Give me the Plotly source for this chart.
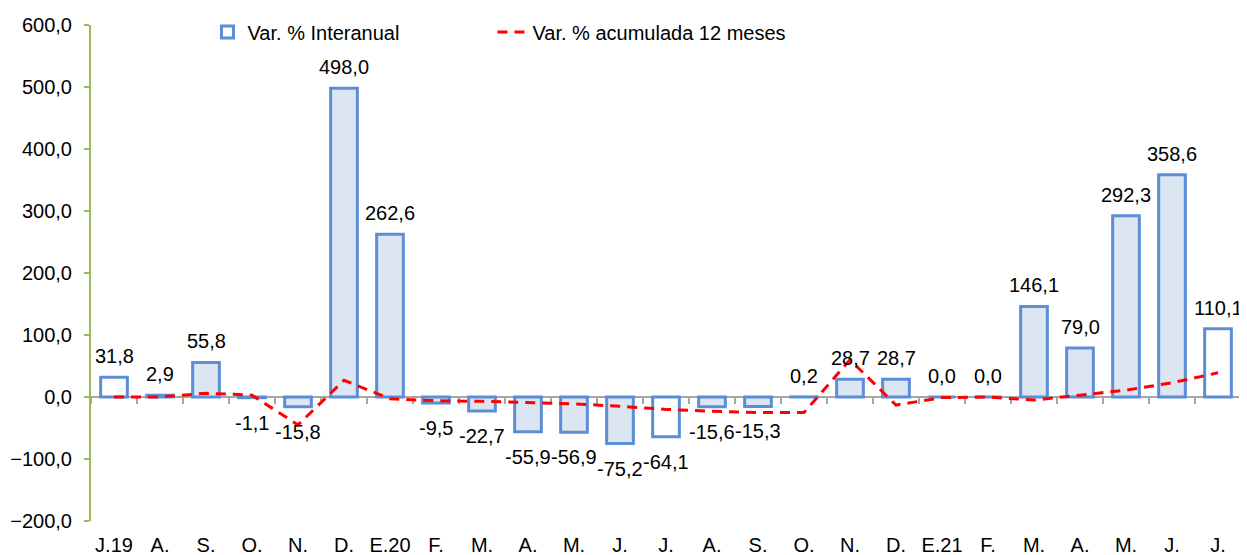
import plotly.graph_objects as go

labels = ["J.19", "A.", "S.", "O.", "N.", "D.", "E.20", "F.", "M.", "A.", "M.", "J.",
          "J.", "A.", "S.", "O.", "N.", "D.", "E.21", "F.", "M.", "A.", "M.", "J.", "J."]
interanual = [31.8, 2.9, 55.8, -1.1, -15.8, 498.0, 262.6, -9.5, -22.7, -55.9, -56.9, -75.2,
              -64.1, -15.6, -15.3, 0.2, 28.7, 28.7, 0.0, 0.0, 146.1, 79.0, 292.3, 358.6, 110.1]
acumulada = [0, 0, 6, 3, -45, 27, -3, -6, -7, -9, -11, -15,
             -20, -23, -25, -25, 60, -13, -1, 0, -5, 3, 11, 23, 39]

x = list(range(len(labels)))
# July bars are drawn with a white fill
fills = ["#FFFFFF" if i in (0, 12, 24) else "#DCE6F2" for i in x]

def fmt(v):
    return f"{v:.1f}".replace(".", ",")

FONT = "Liberation Sans, Arial, sans-serif"
FS = 20

fig = go.Figure()
fig.add_trace(go.Bar(
    x=x, y=interanual, name="Var. % Interanual", legend="legend",
    marker=dict(color=fills, line=dict(color="#5B8ED6", width=3)),
    width=0.58,
))
fig.add_trace(go.Scatter(
    x=x, y=acumulada, name="Var. % acumulada 12 meses", mode="lines", legend="legend2",
    line=dict(color="#FF0000", width=3, dash="10px,7px"),
))
# invisible trace for the zero-line axis
fig.add_trace(go.Scatter(x=[0], y=[0], xaxis="x2", mode="markers",
                         marker=dict(opacity=0), showlegend=False, hoverinfo="skip"))

annotations = []
for xi, v in zip(x, interanual):
    annotations.append(dict(
        x=xi, y=v, xref="x", yref="y", text=fmt(v), showarrow=False,
        yanchor="middle", yshift=21 if v >= 0 else -25,
        font=dict(size=FS, color="#000000", family=FONT),
    ))

legend_common = dict(orientation="h", xref="container", yref="container",
                     y=0.956, xanchor="left", yanchor="middle",
                     font=dict(size=FS), bgcolor="rgba(0,0,0,0)")

fig.update_layout(
    width=1239, height=547,
    margin=dict(l=83, r=6, t=17, b=34, autoexpand=False),
    paper_bgcolor="white", plot_bgcolor="white",
    separators=",.",
    font=dict(family=FONT, size=FS, color="#000000"),
    showlegend=True,
    legend=dict(x=0.161, **legend_common),
    legend2=dict(x=0.391, **legend_common),
    annotations=annotations,
    xaxis=dict(range=[-0.5, 24.5], tickmode="array", tickvals=x, ticktext=labels,
               showgrid=False, zeroline=False, showline=False, ticks="",
               automargin=False, ticklabelstandoff=10, tickfont=dict(size=FS)),
    xaxis2=dict(range=[-0.5, 24.5], overlaying="x", anchor="free", position=0.25,
                tickmode="array", tickvals=[i - 0.5 for i in range(26)],
                showticklabels=False, showgrid=False, zeroline=False,
                showline=True, linecolor="#A6A6A6", linewidth=2,
                ticks="outside", ticklen=6, tickcolor="#A6A6A6", tickwidth=2,
                layer="below traces", automargin=False),
    yaxis=dict(range=[-200, 600], tickmode="array", tickvals=list(range(-200, 601, 100)),
               tickformat=".1f", showgrid=False, zeroline=False,
               showline=True, linecolor="#9BBB59", linewidth=2,
               ticks="outside", ticklen=5, tickcolor="#9BBB59", tickwidth=2,
               automargin=False, ticklabelstandoff=8, tickfont=dict(size=FS)),
)

fig.write_html("out.html")
